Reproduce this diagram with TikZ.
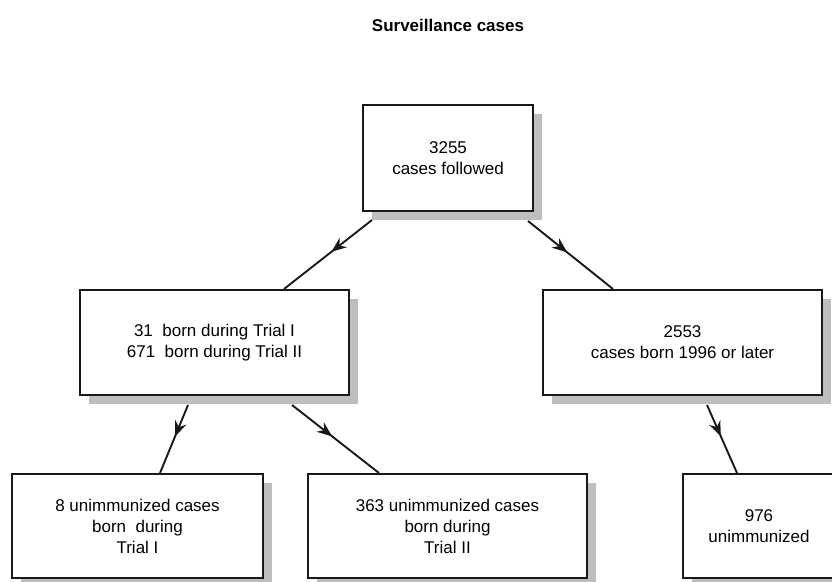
\documentclass[tikz,border=0pt]{standalone}
\usepackage{fontspec}
\setmainfont{Liberation Sans}
\usetikzlibrary{arrows.meta,decorations.markings,shadows,calc}
\definecolor{ink}{RGB}{25,25,25}
\definecolor{shade}{RGB}{190,190,190}
\begin{document}
\begin{tikzpicture}[x=1pt,y=-1pt,
  box/.style={draw=ink, line width=2pt, fill=white, rectangle, inner sep=0pt,
    align=center, font=\fontsize{17}{21}\selectfont,
    drop shadow={shadow xshift=9pt, shadow yshift=-9pt, fill=shade, opacity=1}},
  flow/.style={draw=ink, line width=1.9pt, postaction={decorate},
    decoration={markings, mark=at position 0.46 with
      {\arrow{Stealth[length=15pt,width=12pt,inset=5pt]}}}},
  heading/.style={font=\bfseries\fontsize{17}{21}\selectfont}]
\useasboundingbox (0,0) rectangle (832,581);

% title
\node[heading] (title) at (448,25) {Surveillance cases};

% boxes
\node[box, minimum width=170pt, minimum height=106pt] (A) at (448,158)
  {3255\\cases followed};
\node[box, minimum width=269pt, minimum height=105pt] (B) at (214.5,342.5)
  {31\ \ born during Trial I\\671\ \ born during Trial II};
\node[box, minimum width=279pt, minimum height=105pt] (C) at (682.5,342.5)
  {2553\\cases born 1996 or later};
\node[box, minimum width=251pt, minimum height=104pt] (D) at (137.5,526)
  {8 unimmunized cases\\born\ \ during\\Trial I};
\node[box, minimum width=279pt, minimum height=104pt] (E) at (447.5,526)
  {363 unimmunized cases\\born during\\Trial II};
\node[box, minimum width=152pt, minimum height=104pt] (F) at (759,526)
  {976\\unimmunized};

% connector end points
\coordinate (a1) at ($(A.south west)+(10,8)$);
\coordinate (a2) at ($(A.south east)+(-6,9)$);
\coordinate (b0) at ($(B.north east)+(-66,0)$);
\coordinate (c0) at ($(C.north west)+(71,0)$);
\coordinate (b1) at ($(B.south west)+(109,9)$);
\coordinate (b2) at ($(B.south west)+(213,9)$);
\coordinate (c1) at ($(C.south west)+(165,9)$);
\coordinate (d0) at ($(D.north west)+(149,0)$);
\coordinate (e0) at ($(E.north west)+(72,0)$);
\coordinate (f0) at ($(F.north west)+(55,0)$);

% connectors
\draw[flow] (a1) -- (b0);
\draw[flow] (a2) -- (c0);
\draw[flow] (b1) -- (d0);
\draw[flow] (b2) -- (e0);
\draw[flow] (c1) -- (f0);
\end{tikzpicture}
\end{document}
